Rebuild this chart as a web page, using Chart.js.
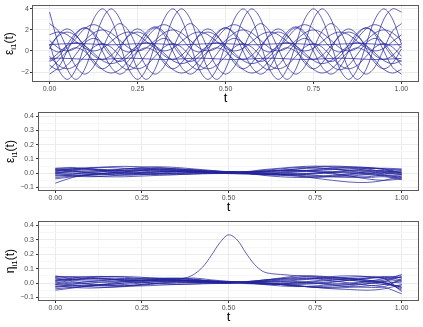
<!DOCTYPE html>
<html>
<head>
<meta charset="utf-8">
<script src="https://cdn.jsdelivr.net/npm/chart.js"></script>
<style>
  body { margin: 0; background: #fff; }
  .box { position: absolute; left: 0; width: 423px; }
  #b1 { top: 0; height: 105px; }
  #b2 { top: 105px; height: 110px; }
  #b3 { top: 215px; height: 112px; }
</style>
</head>
<body>
<div class="box" id="b1"><canvas id="chart1"></canvas></div>
<div class="box" id="b2"><canvas id="chart2"></canvas></div>
<div class="box" id="b3"><canvas id="chart3"></canvas></div>
<script>
/* 축 눈금 */
var xTicks = [0, 0.125, 0.25, 0.375, 0.5, 0.625, 0.75, 0.875, 1];
var xLabels = ['0.00', '', '0.25', '', '0.50', '', '0.75', '', '1.00'];
var yTicksTop = [-2, -1, 0, 1, 2, 3, 4];
var yLabelsTop = ['\u22122', '', '0', '', '2', '', '4'];
var yTicksLow = [-0.1, -0.05, 0, 0.05, 0.1, 0.15, 0.2, 0.25, 0.3, 0.35, 0.4];
var yLabelsLow = ['\u22120.1', '', '0.0', '', '0.1', '', '0.2', '', '0.3', '', '0.4'];

/* 위 패널 : t 격자 */
var tTop = [0,0.025,0.05,0.075,0.1,0.125,0.15,0.175,0.2,0.225,0.25,0.275,0.3,0.325,0.35,0.375,0.4,0.425,0.45,0.475,0.5,
  0.525,0.55,0.575,0.6,0.625,0.65,0.675,0.7,0.725,0.75,0.775,0.8,0.825,0.85,0.875,0.9,0.925,0.95,0.975,1];

var top1 = [3.7,0.65,-1.72,-2.7,-1.72,0.65,3.02,4.0, 3.02,0.65,-1.72,-2.7,-1.72,0.65,3.02,4.0, 3.02,0.65,-1.72,-2.7,-1.72,0.65,3.02,4.0,
  3.02,0.65,-1.72,-2.7,-1.72,0.65,3.02,4.0, 3.02,0.65,-1.72,-2.7,-1.72,0.65,3.02,4.0, 3.7];
var top2 = [0.65,-1.72,-2.7,-1.72,0.65,3.02,4.0,3.02, 0.65,-1.72,-2.7,-1.72,0.65,3.02,4.0,3.02, 0.65,-1.72,-2.7,-1.72,0.65,3.02,4.0,3.02,
  0.65,-1.72,-2.7,-1.72,0.65,3.02,4.0,3.02, 0.65,-1.72,-2.7,-1.72,0.65,3.02,4.0,3.02, 0.65];
var top3 = [-1.0,-0.53,0.6,1.73,2.2,1.73,0.6,-0.53, -1.0,-0.53,0.6,1.8,2.3,1.8,0.6,-0.53, -1.0,-0.53,0.6,1.73,2.2,1.73,0.6,-0.53,
  -1.0,-0.53,0.6,1.8,2.3,1.8,0.6,-0.53, -1.0,-0.53,0.6,1.73,2.2,1.73,0.6,-0.53, -1.0];
var top4 = [2.6,1.9,0.2,-1.5,-2.2,-1.5,0.2,1.9, 2.6,1.9,0.2,-1.5,-2.2,-1.5,0.2,1.9, 2.6,1.9,0.2,-1.5,-2.2,-1.5,0.2,1.9,
  2.6,1.9,0.2,-1.5,-2.2,-1.5,0.2,1.9, 2.6,1.9,0.2,-1.5,-2.2,-1.5,0.2,1.9, 2.6];
var top5 = [-2.2,-1.56,0,1.56,2.2,1.56,0,-1.56, -2.2,-1.56,0,1.56,2.2,1.56,0,-1.56, -2.2,-1.56,0,1.56,2.2,1.56,0,-1.56,
  -2.2,-1.56,0,1.56,2.2,1.56,0,-1.56, -2.2,-1.56,0,1.56,2.2,1.56,0,-1.56, -2.2];
var top6 = [0.5,1.42,1.8,1.42,0.5,-0.42,-0.8,-0.42, 0.5,1.42,1.8,1.42,0.5,-0.42,-0.8,-0.42, 0.5,1.42,1.8,1.42,0.5,-0.42,-0.8,-0.42,
  0.5,1.42,1.8,1.42,0.5,-0.42,-0.8,-0.42, 0.5,1.42,1.8,1.42,0.5,-0.42,-0.8,-0.42, 0.5];
var top7 = [-1.36,-1.8,-1.36,-0.3,0.76,1.2,0.76,-0.3, -1.36,-1.8,-1.36,-0.3,0.76,1.2,0.76,-0.3, -1.36,-1.8,-1.36,-0.3,0.76,1.2,0.76,-0.3,
  -1.36,-1.8,-1.36,-0.3,0.76,1.2,0.76,-0.3, -1.36,-1.8,-1.36,-0.3,0.76,1.2,0.76,-0.3, -1.36];
var top8 = [-0.91,-0.2,0.51,0.8,0.51,-0.2,-0.91,-1.2, -0.91,-0.2,0.51,0.8,0.51,-0.2,-0.91,-1.2, -0.91,-0.2,0.51,0.8,0.51,-0.2,-0.91,-1.2,
  -0.91,-0.2,0.51,0.8,0.51,-0.2,-0.91,-1.2, -0.91,-0.2,0.51,0.8,0.51,-0.2,-0.91,-1.2, -0.91];
var top9 = [1.0,0.29,0.0,0.29,1.0,1.71,2.0,1.71, 1.0,0.29,0.0,0.29,1.0,1.71,2.0,1.71, 1.0,0.29,0.0,0.29,1.0,1.71,2.0,1.71,
  1.0,0.29,0.0,0.29,1.0,1.71,2.0,1.71, 1.0,0.29,0.0,0.29,1.0,1.71,2.0,1.71, 1.0];
var top10 = [0.2,1.54,2.1,1.54,0.2,-1.14,-1.7,-1.14, 0.2,1.54,2.1,1.54,0.2,-1.14,-1.7,-1.14, 0.2,1.54,2.1,1.54,0.2,-1.14,-1.7,-1.14,
  0.2,1.54,2.1,1.54,0.2,-1.14,-1.7,-1.14, 0.2,1.54,2.1,1.54,0.2,-1.14,-1.7,-1.14, 0.2];
var top11 = [-0.5,-1.35,-1.7,-1.35,-0.5,0.35,0.7,0.35, -0.5,-1.35,-1.7,-1.35,-0.5,0.35,0.7,0.35, -0.5,-1.35,-1.7,-1.35,-0.5,0.35,0.7,0.35,
  -0.5,-1.35,-1.7,-1.35,-0.5,0.35,0.7,0.35, -0.5,-1.35,-1.7,-1.35,-0.5,0.35,0.7,0.35, -0.5];
var top12 = [1.54,1.8,1.54,0.9,0.26,0.0,0.26,0.9, 1.54,1.8,1.54,0.9,0.26,0.0,0.26,0.9, 1.54,1.8,1.54,0.9,0.26,0.0,0.26,0.9,
  1.54,1.8,1.54,0.9,0.26,0.0,0.26,0.9, 1.54,1.8,1.54,0.9,0.26,0.0,0.26,0.9, 1.54];
var top13 = [-1.75,-0.9,-0.05,0.3,-0.05,-0.9,-1.75,-2.1, -1.75,-0.9,-0.05,0.3,-0.05,-0.9,-1.75,-2.1, -1.75,-0.9,-0.05,0.3,-0.05,-0.9,-1.75,-2.1,
  -1.75,-0.9,-0.05,0.3,-0.05,-0.9,-1.75,-2.1, -1.75,-0.9,-0.05,0.3,-0.05,-0.9,-1.75,-2.1, -1.75];
var top14 = [0.28,-0.1,0.28,1.2,2.12,2.5,2.12,1.2, 0.28,-0.1,0.28,1.2,2.12,2.5,2.12,1.2, 0.28,-0.1,0.28,1.2,2.12,2.5,2.12,1.2,
  0.28,-0.1,0.28,1.2,2.12,2.5,2.12,1.2, 0.28,-0.1,0.28,1.2,2.12,2.5,2.12,1.2, 0.28];
var top15 = [0.61,0.65,0.69,0.71,0.69,0.65,0.61,0.59, 0.61,0.65,0.69,0.71,0.69,0.65,0.61,0.59, 0.61,0.65,0.69,0.71,0.69,0.65,0.61,0.59,
  0.61,0.65,0.69,0.71,0.69,0.65,0.61,0.59, 0.61,0.65,0.69,0.71,0.69,0.65,0.61,0.59, 0.61];
var top16 = [-0.71,-0.69,-0.71,-0.75,-0.79,-0.81,-0.79,-0.75, -0.71,-0.69,-0.71,-0.75,-0.79,-0.81,-0.79,-0.75, -0.71,-0.69,-0.71,-0.75,-0.79,-0.81,-0.79,-0.75,
  -0.71,-0.69,-0.71,-0.75,-0.79,-0.81,-0.79,-0.75, -0.71,-0.69,-0.71,-0.75,-0.79,-0.81,-0.79,-0.75, -0.71];

/* 아래 두 패널 : t 격자 */
var tLow = [0,0.05,0.1,0.15,0.2,0.25,0.3,0.35,0.4,0.45,0.5,0.55,0.6,0.65,0.7,0.75,0.8,0.85,0.9,0.95,1];

// 가운데 패널 (epsilon)
var mid1 = [0.00,0.02,0.035,0.045,0.048,0.045,0.04,0.03,0.022,0.014,0.01,0.0,-0.015,-0.025,-0.03,-0.03,-0.025,-0.02,-0.01,0.0,0.01];
var mid2 = [0.0,-0.01,-0.02,-0.025,-0.025,-0.02,-0.015,-0.01,-0.006,-0.003,0.0,0.01,0.025,0.035,0.045,0.05,0.045,0.035,0.02,0.005,-0.01];
var mid3 = [0.035,0.04,0.03,0.02,0.02,0.025,0.03,0.03,0.025,0.016,0.008,0.003,0.0,0.005,0.01,0.01,0.0,-0.02,-0.04,-0.05,-0.04];
var mid4 = [0.02,0.01,0.005,0.01,0.02,0.03,0.035,0.03,0.02,0.01,0.004,0.0,-0.005,-0.01,-0.02,-0.035,-0.05,-0.062,-0.065,-0.05,-0.02];
var mid5 = [-0.07,-0.03,-0.01,0.0,0.005,0.01,0.015,0.015,0.01,0.004,-0.002,0.002,0.01,0.02,0.03,0.035,0.03,0.02,0.01,0.0,-0.01];
var mid6 = [0.01,0.025,0.03,0.025,0.015,0.005,0.0,0.002,0.006,0.01,0.012,0.012,0.012,0.015,0.02,0.02,0.025,0.03,0.035,0.03,0.02];
var mid7 = [-0.02,-0.015,-0.01,-0.005,0.0,0.005,0.01,0.012,0.01,0.008,0.006,0.0,-0.005,-0.01,-0.015,-0.02,-0.015,-0.005,0.01,0.02,0.025];
var mid8 = [0.03,0.035,0.025,0.01,-0.005,-0.01,-0.005,0.0,0.002,0.002,0.002,0.008,0.02,0.03,0.04,0.04,0.03,0.015,0.0,-0.015,-0.03];
var mid9 = [-0.01,-0.02,-0.025,-0.02,-0.01,0.0,0.01,0.02,0.02,0.015,0.01,0.0,-0.01,-0.01,-0.005,0.0,0.01,0.02,0.03,0.035,0.03];
var mid10 = [0.0,0.01,0.015,0.02,0.03,0.035,0.03,0.02,0.01,0.003,-0.003,-0.005,-0.006,0.0,0.01,0.02,0.03,0.04,0.04,0.03,0.0];
var mid11 = [0.025,0.015,0.0,-0.01,-0.015,-0.01,0.0,0.01,0.015,0.01,0.007,0.003,0.0,0.0,-0.005,-0.015,-0.025,-0.03,-0.025,-0.015,-0.03];
var mid12 = [-0.03,-0.02,-0.01,0.0,0.01,0.02,0.025,0.025,0.018,0.008,0.0,-0.005,-0.008,-0.01,-0.005,0.0,0.005,0.0,-0.01,-0.02,-0.04];
var mid13 = [0.015,0.03,0.04,0.04,0.035,0.03,0.02,0.015,0.012,0.011,0.011,0.008,0.002,-0.005,-0.01,-0.005,0.005,0.015,0.02,0.015,0.005];
var mid14 = [-0.04,-0.025,-0.015,-0.01,-0.005,0.0,0.0,-0.002,0.0,0.002,0.003,0.008,0.015,0.02,0.02,0.015,0.01,0.005,0.0,-0.01,-0.02];
var mid15 = [0.005,0.0,-0.005,0.0,0.01,0.02,0.025,0.02,0.015,0.011,0.009,0.007,0.006,0.01,0.015,0.025,0.04,0.045,0.04,0.025,0.0];
var mid16 = [0.03,0.02,0.015,0.02,0.03,0.04,0.045,0.04,0.03,0.02,0.01,0.0,-0.01,-0.015,-0.02,-0.025,-0.02,-0.01,0.0,0.01,0.015];
var mid17 = [-0.015,-0.005,0.005,0.015,0.02,0.02,0.015,0.01,0.005,0.003,0.002,0.005,0.01,0.02,0.03,0.045,0.05,0.045,0.03,0.01,-0.005];
var mid18 = [0.02,0.03,0.03,0.02,0.005,-0.005,-0.01,-0.01,-0.005,0.0,0.004,0.008,0.015,0.02,0.02,0.01,-0.005,-0.02,-0.03,-0.025,-0.045];

// 아래 패널 (eta)
var low1 = [0.05,0.03,0.02,0.02,0.025,0.03,0.03,0.025,0.018,0.013,0.01,0.003,-0.005,-0.01,-0.02,-0.03,-0.035,-0.03,-0.02,-0.01,0.02];
var low2 = [-0.05,-0.035,-0.02,-0.01,0.0,0.005,0.01,0.01,0.006,0.002,0.0,0.008,0.02,0.035,0.05,0.05,0.04,0.03,0.015,0.0,-0.03];
var low3 = [0.0,0.02,0.04,0.045,0.045,0.04,0.03,0.02,0.014,0.011,0.01,0.008,0.005,0.01,0.02,0.03,0.045,0.05,0.045,0.03,0.01];
var low4 = [0.03,0.01,-0.005,-0.015,-0.02,-0.02,-0.015,-0.01,-0.005,-0.002,0.0,0.01,0.02,0.03,0.035,0.03,0.015,0.0,-0.015,-0.03,-0.075];
var low5 = [-0.02,-0.03,-0.035,-0.03,-0.02,-0.01,0.0,0.01,0.015,0.01,0.006,0.0,-0.005,-0.01,-0.02,-0.03,-0.04,-0.045,-0.05,-0.04,-0.01];
var low6 = [0.02,0.035,0.045,0.045,0.04,0.03,0.025,0.03,0.035,0.022,0.012,0.002,-0.01,-0.02,-0.025,-0.02,-0.01,0.0,0.01,0.02,0.06];
var low7 = [-0.04,-0.03,-0.02,-0.005,0.01,0.02,0.03,0.035,0.028,0.012,0.003,0.008,0.02,0.03,0.04,0.045,0.04,0.03,0.02,0.01,0.0];
var low8 = [0.01,0.0,-0.01,-0.015,-0.01,0.0,0.01,0.015,0.012,0.008,0.005,0.0,-0.005,-0.005,0.0,0.01,0.02,0.03,0.035,0.04,0.05];
var low9 = [0.04,0.045,0.04,0.03,0.015,0.005,-0.005,-0.01,-0.008,-0.004,-0.002,0.004,0.01,0.008,0.005,0.0,-0.005,-0.01,-0.005,0.005,-0.05];
var low10 = [-0.01,0.0,0.01,0.02,0.03,0.035,0.035,0.03,0.022,0.014,0.009,0.004,0.0,0.0,0.005,0.015,0.025,0.02,0.005,-0.01,-0.02];
var low11 = [0.0,-0.015,-0.025,-0.03,-0.025,-0.015,-0.005,0.0,0.003,0.004,0.005,0.006,0.01,0.015,0.01,0.0,-0.015,-0.025,-0.03,-0.025,0.03];
var low12 = [0.035,0.02,0.01,0.005,0.01,0.015,0.02,0.02,0.016,0.012,0.007,0.003,0.0,-0.01,-0.02,-0.025,-0.02,-0.01,0.01,0.03,0.04];
var low13 = [-0.03,-0.02,-0.015,-0.02,-0.02,-0.01,0.0,0.003,0.004,0.003,0.002,0.006,0.015,0.025,0.03,0.035,0.035,0.03,0.02,0.0,-0.04];
var low14 = [0.015,0.025,0.03,0.035,0.03,0.02,0.015,0.015,0.018,0.013,0.008,0.003,0.0,-0.005,-0.005,0.0,0.01,0.02,0.03,0.04,0.02];
var low15 = [-0.025,-0.01,0.0,0.01,0.015,0.02,0.025,0.03,0.025,0.015,0.008,0.004,0.0,-0.01,-0.02,-0.03,-0.03,-0.02,-0.005,0.01,0.045];
var low16 = [0.045,0.04,0.03,0.025,0.02,0.02,0.02,0.018,0.012,0.006,0.002,0.005,0.012,0.02,0.025,0.03,0.035,0.04,0.045,0.03,-0.06];
var low17 = [-0.01,-0.02,-0.02,-0.01,0.0,0.01,0.015,0.015,0.01,0.006,0.0,-0.004,-0.008,-0.01,-0.01,-0.005,0.005,0.02,0.035,0.045,0.035];
// 가운데 튀는 곡선
var tBump = [0,0.05,0.1,0.15,0.2,0.25,0.3,0.35,0.375,0.4,0.425,0.45,0.475,0.5,0.525,0.55,0.575,0.6,0.625,0.65,0.7,0.75,0.8,0.85,0.9,0.95,1];
var bump = [0.02,0.025,0.03,0.03,0.02,0.015,0.02,0.025,0.035,0.06,0.11,0.19,0.28,0.335,0.3,0.21,0.13,0.08,0.065,0.06,0.05,0.04,0.03,0.02,0.01,0.0,-0.03];

var LINE = 'rgba(35, 35, 155, 0.72)';
Chart.defaults.font.family = "'Liberation Sans', Arial, sans-serif";
Chart.defaults.color = '#4d4d4d';

function pts(ts, ys) {
  return ys.map(function (y, i) { return { x: ts[i], y: y }; });
}

function lines(ts, list) {
  return list.map(function (ys) {
    return { data: pts(ts, ys), borderColor: LINE, borderWidth: 1, pointRadius: 0, tension: 0.35, fill: false };
  });
}

// 테두리 + y축 제목(아래첨자)
var framePlugin = {
  id: 'frame',
  afterDraw: function (chart, args, o) {
    var a = chart.chartArea, ctx = chart.ctx;
    ctx.save();
    ctx.strokeStyle = '#5a5a5a';
    ctx.lineWidth = 1;
    ctx.strokeRect(Math.round(a.left) + 0.5, Math.round(a.top) + 0.5,
      Math.round(a.right - a.left) - 1, Math.round(a.bottom - a.top) - 1);

    ctx.translate(o.x, (a.top + a.bottom) / 2);
    ctx.rotate(-Math.PI / 2);
    ctx.fillStyle = '#000';
    ctx.textBaseline = 'alphabetic';
    var big = "12px 'Liberation Sans', Arial, sans-serif";
    var small = "8px 'Liberation Sans', Arial, sans-serif";
    ctx.font = big;
    var w1 = ctx.measureText(o.sym).width, w3 = ctx.measureText('(t)').width;
    ctx.font = small;
    var w2 = ctx.measureText('i1').width;
    var x0 = -(w1 + w2 + w3) / 2;
    ctx.font = big; ctx.fillText(o.sym, x0, 0);
    ctx.font = small; ctx.fillText('i1', x0 + w1, 3);
    ctx.font = big; ctx.fillText('(t)', x0 + w1 + w2, 0);
    ctx.restore();
  }
};

function makeChart(id, datasets, o) {
  return new Chart(id, {
    type: 'line',
    data: { datasets: datasets },
    options: {
      responsive: true,
      maintainAspectRatio: false,
      animation: false,
      layout: { padding: { top: o.top, right: 4, left: 0, bottom: 0 } },
      plugins: {
        legend: { display: false },
        tooltip: { enabled: false },
        frame: { sym: o.sym, x: o.titleX }
      },
      scales: {
        x: {
          type: 'linear', min: -0.05, max: 1.05,
          afterBuildTicks: function (s) { s.ticks = xTicks.map(function (v) { return { value: v }; }); },
          afterFit: function (s) { s.height = o.xh; },
          border: { display: false },
          ticks: { autoSkip: false, maxRotation: 0, padding: 1, font: { size: 7 },
            callback: function (v, i) { return xLabels[i]; } },
          grid: {
            lineWidth: 1, tickWidth: 1, tickLength: 2,
            color: function (c) { return xLabels[c.index] ? '#ebebeb' : '#f6f6f6'; },
            tickColor: function (c) { return xLabels[c.index] ? '#333' : 'rgba(0,0,0,0)'; }
          },
          title: { display: true, text: 't', color: '#000', font: { size: 13, lineHeight: 1 },
            padding: { top: 0, bottom: o.tb } }
        },
        y: {
          min: o.ymin, max: o.ymax,
          afterBuildTicks: function (s) { s.ticks = o.yt.map(function (v) { return { value: v }; }); },
          afterFit: function (s) { s.width = o.yw; },
          border: { display: false },
          ticks: { autoSkip: false, padding: o.yp, font: { size: 7 },
            callback: function (v, i) { return o.yl[i]; } },
          grid: {
            lineWidth: 1, tickWidth: 1, tickLength: 2,
            color: function (c) { return o.yl[c.index] ? '#ebebeb' : '#f6f6f6'; },
            tickColor: function (c) { return o.yl[c.index] ? '#333' : 'rgba(0,0,0,0)'; }
          }
        }
      }
    },
    plugins: [framePlugin]
  });
}

makeChart('chart1',
  lines(tTop, [top1, top2, top3, top4, top5, top6, top7, top8, top9, top10, top11, top12, top13, top14, top15, top16]),
  { top: 4, xh: 23, tb: 0, yw: 32, yp: 1, ymin: -2.95, ymax: 4.35, yt: yTicksTop, yl: yLabelsTop, sym: '\u03b5', titleX: 13 });

makeChart('chart2',
  lines(tLow, [mid1, mid2, mid3, mid4, mid5, mid6, mid7, mid8, mid9, mid10, mid11, mid12, mid13, mid14, mid15, mid16, mid17, mid18]),
  { top: 7, xh: 24, tb: 1, yw: 38, yp: 2, ymin: -0.125, ymax: 0.43, yt: yTicksLow, yl: yLabelsLow, sym: '\u03b5', titleX: 14 });

makeChart('chart3',
  lines(tLow, [low1, low2, low3, low4, low5, low6, low7, low8, low9, low10, low11, low12, low13, low14, low15, low16, low17])
    .concat(lines(tBump, [bump])),
  { top: 6, xh: 26, tb: 3, yw: 38, yp: 2, ymin: -0.125, ymax: 0.43, yt: yTicksLow, yl: yLabelsLow, sym: '\u03b7', titleX: 14 });
</script>
</body>
</html>
